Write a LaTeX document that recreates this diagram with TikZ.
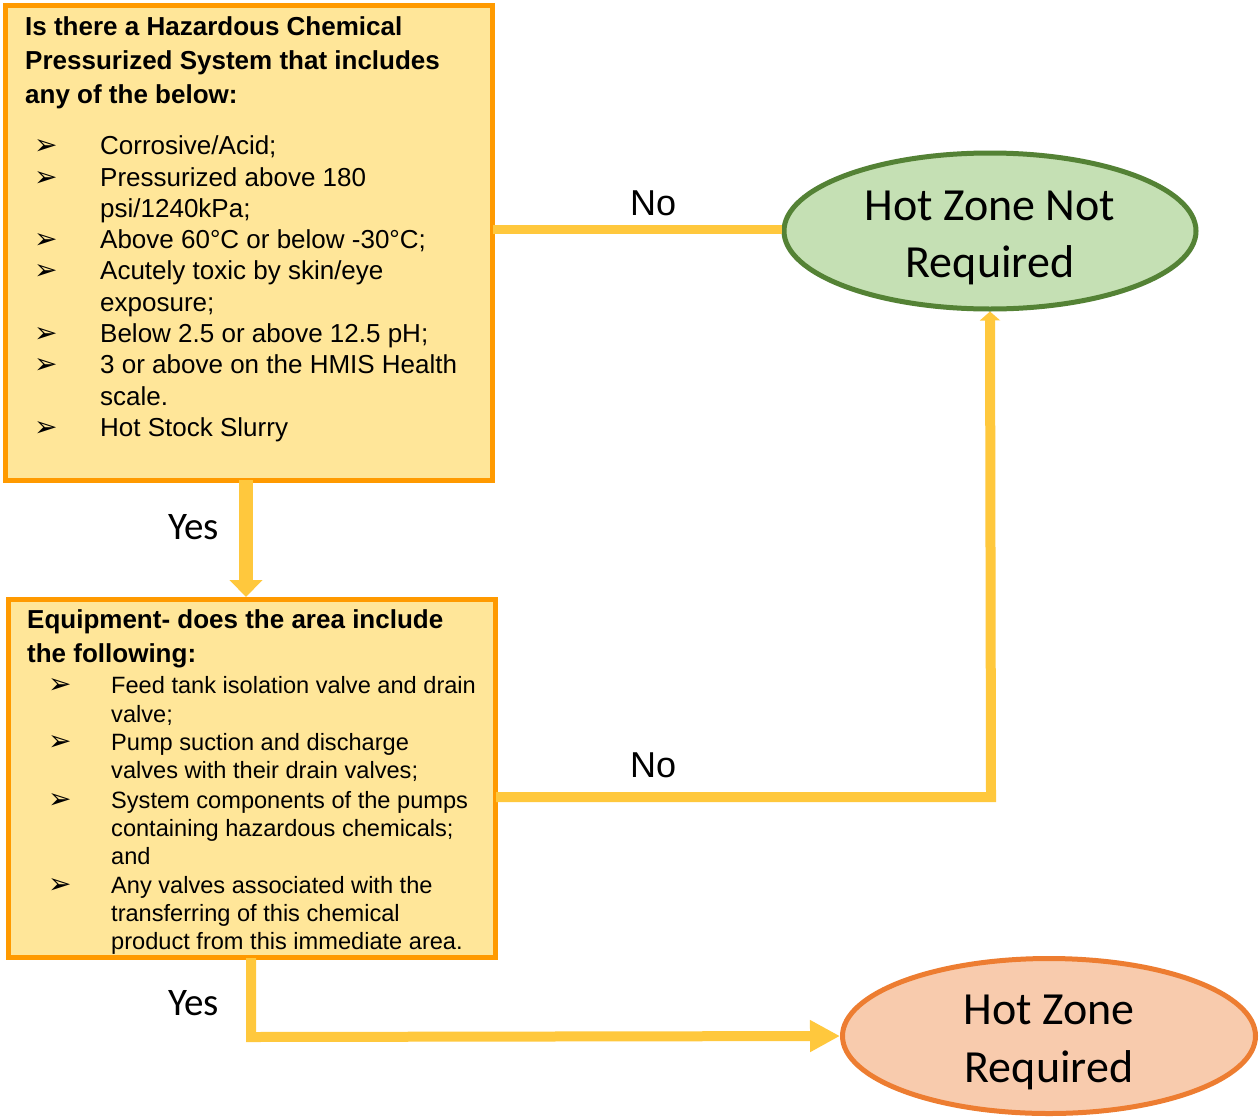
\documentclass[tikz,border=0pt]{standalone}
\usepackage{fontspec}
\setmainfont{Liberation Sans}
\newfontfamily\calfam{Carlito}
\newfontfamily\djv{DejaVu Sans}
\usetikzlibrary{shapes.geometric,arrows.meta}
\definecolor{boxfill}{HTML}{FFE699}
\definecolor{boxline}{HTML}{FF9A00}
\definecolor{conn}{HTML}{FFC83D}
\definecolor{greenfill}{HTML}{C5E0B4}
\definecolor{greenline}{HTML}{548235}
\definecolor{orfill}{HTML}{F8CBAD}
\definecolor{orline}{HTML}{ED7D31}
\newcommand\bodyA{\fontsize{26}{31}\selectfont}
\newcommand\headA{\bfseries\fontsize{26}{34}\selectfont}
\newcommand\bodyB{\fontsize{23.6}{28}\selectfont}
\newcommand\bulA{\djv\fontsize{28}{30}\selectfont}
\newcommand\ovalfont{\calfam\fontsize{46}{57}\selectfont}
\newcommand\yesfont{\calfam\fontsize{39}{40}\selectfont}
\newcommand\nofont{\fontsize{36}{40}\selectfont}
\begin{document}
\begin{tikzpicture}[x=1pt,y=-1pt,
  qbox/.style={draw=boxline,fill=boxfill,line width=5,inner sep=0,rectangle},
  oval/.style={ellipse,inner sep=0,line width=5},
  hd/.style={anchor=base west,inner sep=0,font=\headA},
  tA/.style={anchor=base west,inner sep=0,font=\bodyA},
  tB/.style={anchor=base west,inner sep=0,font=\bodyB},
  bul/.style={anchor=base west,inner sep=0,font=\bulA},
  otext/.style={anchor=base,inner sep=0,font=\ovalfont},
  lab/.style={anchor=base west,inner sep=0},
  conn/.style={draw=conn,line width=9},
]
\useasboundingbox (0,0) rectangle (1260,1119);
\fill[white] (0,0) rectangle (1260,1119);

% boxes
\node[qbox,minimum width=487,minimum height=475] (box1) at (249,242.5) {};
\node[qbox,minimum width=487,minimum height=358] (box2) at (252,778.5) {};

% ellipses
\node[oval,draw=greenline,fill=greenfill,minimum width=412,minimum height=156] (e1) at (990,231) {};
\node[oval,draw=orline,fill=orfill,minimum width=413,minimum height=155] (e2) at (1049,1036) {};

% box 1 text
\node[hd] (h1a) at (25,35) {Is there a Hazardous Chemical};
\node[hd] (h1b) at (25,69) {Pressurized System that includes};
\node[hd] (h1c) at (25,103) {any of the below:};
\foreach \y/\n in {154/1,186/2,248/3,279/4,342/5,373/6,436/7}
  \node[bul] (b1\n) at (34,\y) {➢};
\node[tA] (t11) at (100,154) {Corrosive/Acid;};
\node[tA] (t12) at (100,186) {Pressurized above 180};
\node[tA] (t13) at (100,217) {psi/1240kPa;};
\node[tA] (t14) at (100,248) {Above 60°C or below -30°C;};
\node[tA] (t15) at (100,279) {Acutely toxic by skin/eye};
\node[tA] (t16) at (100,311) {exposure;};
\node[tA] (t17) at (100,342) {Below 2.5 or above 12.5 pH;};
\node[tA] (t18) at (100,373) {3 or above on the HMIS Health};
\node[tA] (t19) at (100,405) {scale.};
\node[tA] (t110) at (100,436) {Hot Stock Slurry};

% box 2 text
\node[hd] (h2a) at (27,628) {Equipment- does the area include};
\node[hd] (h2b) at (27,662) {the following:};
\foreach \y/\n in {693/1,750/2,808/3,893/4}
  \node[bul] (b2\n) at (48,\y) {➢};
\node[tB] (t21) at (111,693) {Feed tank isolation valve and drain};
\node[tB] (t22) at (111,722) {valve;};
\node[tB] (t23) at (111,750) {Pump suction and discharge};
\node[tB] (t24) at (111,778) {valves with their drain valves;};
\node[tB] (t25) at (111,808) {System components of the pumps};
\node[tB] (t26) at (111,836) {containing hazardous chemicals;};
\node[tB] (t27) at (111,864) {and};
\node[tB] (t28) at (111,893) {Any valves associated with the};
\node[tB] (t29) at (111,921) {transferring of this chemical};
\node[tB] (t210) at (111,949) {product from this immediate area.};

% ellipse text
\node[otext] (e1a) at (990,220) {Hot Zone Not};
\node[otext] (e1b) at (990,277) {Required};
\node[otext] (e2a) at (1049,1024) {Hot Zone};
\node[otext] (e2b) at (1049,1082) {Required};

% labels
\node[lab,font=\nofont] (no1) at (630,215) {No};
\node[lab,font=\nofont] (no2) at (630,777) {No};
\node[lab,font=\yesfont] (yes1) at (168,539) {Yes};
\node[lab,font=\yesfont] (yes2) at (168,1015) {Yes};

% connectors
\coordinate (c1) at (246,480);
\coordinate (c1e) at (246,597);
\draw[conn,line width=14,-{Triangle[width=32,length=17]}] (c1) -- (c1e);
\coordinate (n1) at (700,229);
\draw[conn] ([xshift=-2]box1.east |- n1) -- (e1.west |- n1);
\coordinate (n2) at (991,797);
\draw[conn,line width=10,-{Triangle[width=20,length=9]},line join=miter] ([xshift=-2]box2.east |- n2) -- (n2) -- (e1.south);
\coordinate (y2) at (251,1037);
\draw[conn,line width=10,-{Triangle[width=30,length=30]},line join=miter] ([yshift=2]box2.south -| y2) -- (y2) -- (e2.west);
\end{tikzpicture}
\end{document}
